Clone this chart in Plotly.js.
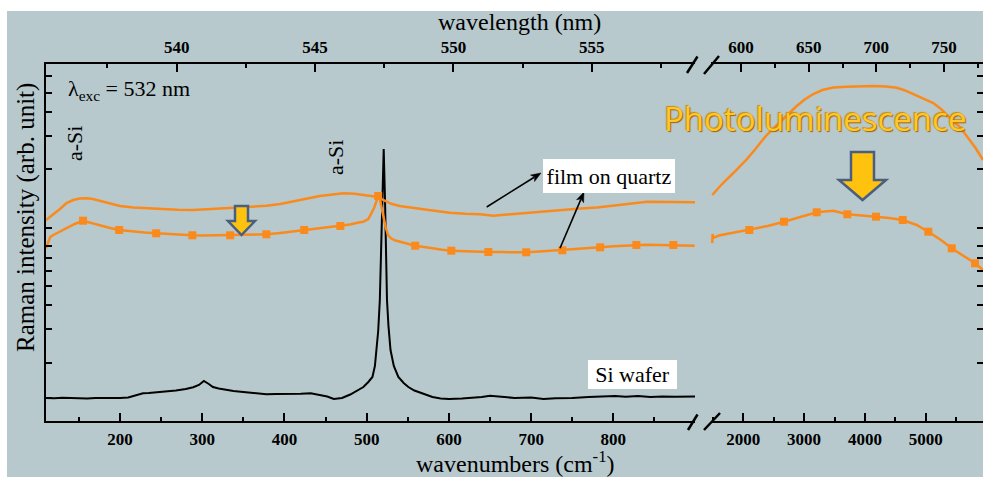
<!DOCTYPE html>
<html><head><meta charset="utf-8">
<script src="https://cdn.plot.ly/plotly-3.0.1.min.js"></script>
<style>html,body{margin:0;padding:0;background:#fff}#chart{width:983px;height:477px}</style>
</head><body><div id="chart"></div>
<script>
// ---------- data (Raman shift in cm^-1, intensity in arb. units) ----------
const siWaferWn = [110,120,130,140,150,160,170,180,190,200,210,220,228,235,245,257,268,280,289,296,302,308,313,320,330,338,350,365,378,390,405,420,432,442,452,460,470,480,490,496,502,507,510,512,514,516,517.5,519,520.7,522.3,523.5,524.7,526.5,529,533,538.5,545,550.7,558,567,580,590,600,616,630,640,650,665,680,700,715,730,750,770,785,802,815,830,845,860,875,890,900];
const siWaferI  = [23,22.7,23.2,22.8,23,22.6,23.1,22.9,22.7,23,23.5,25.5,27.8,28,28.6,30,30.5,32,33.7,36,40,37,34,32.5,31,30,29,27.8,26.7,27,26.8,27.2,27.7,26,24.5,22,23,26.5,31,34,39,44,55,71,90,121,165,221,272,221,165,121,95,71,55,44,38,34,30.5,27.7,24,22.5,22,22.5,23,24,25.3,24,23,23.5,22,22.8,23,24,24.5,25,24.3,25,24,24.6,24.2,24.8,24.5,24.8];

const filmTopWn = [110,115,120,127,135,143,151,160,167,175,185,192,200,216,230,245,257,270,289,300,320,338,360,378,395,411,425,443,458,472,485,492,500,508,514,520,524,530,540,550,560,580,601,620,638,654,670,690,705,719,740,760,780,800,820,841,860,880,900];
const filmTopI  = [201,204,207.5,212,218,221,222.5,222.8,222,220.3,217.5,216.2,215,213.4,212.7,211.8,211.6,211.2,211,211.6,212.4,213.7,214.4,215.2,217,219.3,222,225,226.6,227.7,227.2,226.3,225.6,225,224,221,219.3,217.2,215,213.6,212.7,210.4,208.3,207.2,206.7,205.3,206.5,207.6,209.2,210,211.2,212.6,213.4,215,217.2,219.3,219.2,218.8,218.7];

const filmLowWn = [110,113,115,120,128,135,145,155,165,176,188,199,215,230,244,260,275,288,300,315,334,350,365,378,395,410,424,440,455,468,480,490,496,502,506,509,512,514,516,518,520,523,526,530,535,540.5,550,559,570,581,592,603,615,630,648,665,680,694,710,725,738,750,765,784,800,815,828,840,855,873,885,899];
const filmLowI  = [172.7,180,184,186.5,190,192.7,197,200.3,198,195,193,191,189.5,188.4,187.7,186.8,186.2,185.7,185.5,185.8,185.7,186.1,186.3,186.7,188.1,189.5,191,192.6,194,195,196.5,198.5,199.3,202,207.7,213,220,225,222,214,204.3,194,186,182.5,180.5,179.3,177,175.3,174.1,172.5,171.3,170.3,169.8,169.3,169,168.9,168.6,168.7,169.5,170.3,170.7,171.9,172.6,173.7,174.8,175.4,176,176.2,175.9,176,175.6,175.3];
const filmMarkWn = [155,199,244,288,334,378,424,468,514,559,603,648,694,738,784,828,873];
const filmMarkI  = [200.3,191,187.7,185.7,185.7,186.7,191,195,225,175.3,170.3,169,168.7,170.7,173.7,176,176];

const plTopWn = [1490,1650,1836,2056,2200,2385,2604,2750,2878,3010,3151,3300,3480,3700,3900,4138,4350,4523,4650,4796,4950,5125,5250,5345,5450,5564,5700,5820,5942];
const plTopI  = [226,237,248,261.7,272,286,299,308,315,321.5,327,331,333.5,334.2,334.6,335,334.4,333.2,330.8,326.7,322.3,318,312,306,300,294,283,273,261];
const plLowWn = [1490,1495,1505,1600,1800,2099,2400,2669,2950,3207,3480,3711,3950,4183,4400,4622,4850,5043,5250,5428,5620,5811,5942];
const plLowI  = [178,187,183,185.5,188,191,195,199.3,204,208.7,210.3,206.7,205.5,204.3,203,201,196,189.3,181,172.7,165,157.7,151];
const plMarkWn = [2099,2669,3207,3711,4183,4622,5043,5428,5811];
const plMarkI  = [191,199.3,208.7,206.7,204.3,201,189.3,172.7,157.7];

const yTickVals = [345,328,309,285,252,193,175,163,150,135,116,92,58,23];

// ---------- geometry helpers (pixel -> paper) ----------
const L = 46, T = 64, W = 937, H = 357;
const px = x => (x - L) / W;
const py = y => (T + H - y) / H;
const P = (x, y) => px(x).toFixed(5) + ',' + py(y).toFixed(5);

const ORANGE = '#fb8a1c';
const BG = '#b7c9cd';
const SERIF = '"Liberation Serif","Times New Roman",serif';

const orangeLine = {color: ORANGE, width: 2.5};
const traces = [
  {x: siWaferWn, y: siWaferI, xaxis: 'x', yaxis: 'y', mode: 'lines', line: {color: '#000', width: 2}},
  {x: filmTopWn, y: filmTopI, xaxis: 'x', yaxis: 'y', mode: 'lines', line: orangeLine},
  {x: filmLowWn, y: filmLowI, xaxis: 'x', yaxis: 'y', mode: 'lines', line: orangeLine},
  {x: filmMarkWn, y: filmMarkI, xaxis: 'x', yaxis: 'y', mode: 'markers', marker: {symbol: 'square', size: 8, color: ORANGE}},
  {x: plTopWn, y: plTopI, xaxis: 'x2', yaxis: 'y2', mode: 'lines', line: orangeLine},
  {x: plLowWn, y: plLowI, xaxis: 'x2', yaxis: 'y2', mode: 'lines', line: orangeLine},
  {x: plMarkWn, y: plMarkI, xaxis: 'x2', yaxis: 'y2', mode: 'markers', marker: {symbol: 'square', size: 8, color: ORANGE}},
  {x: [], y: [], xaxis: 'x3', yaxis: 'y'},
  {x: [], y: [], xaxis: 'x4', yaxis: 'y2'}
];
traces.forEach(t => { t.showlegend = false; t.hoverinfo = 'skip'; });

const tickFont = {family: SERIF, size: 17, color: '#000', weight: 'bold'};
const minorT = d => ({dtick: d, ticks: 'inside', ticklen: 4, tickwidth: 2, tickcolor: '#000', showgrid: false});
function xAx(extra) {
  return Object.assign({
    showgrid: false, zeroline: false, showline: true, linecolor: '#000', linewidth: 2,
    ticks: 'inside', ticklen: 8, tickwidth: 2, tickcolor: '#000', tickfont: tickFont,
    ticklabelstandoff: 2, automargin: false, fixedrange: true, tickmode: 'linear', tick0: 0
  }, extra);
}
const yAx = (extra) => Object.assign({domain: [0, 1], range: [0, H], showgrid: false, zeroline: false, showline: true,
  linecolor: '#000', linewidth: 2, ticks: 'inside', ticklen: 6, tickwidth: 2, tickcolor: '#000',
  tickmode: 'array', showticklabels: false, automargin: false, fixedrange: true}, extra);
const dLeft = [0, px(695)], dRight = [px(711), 1];

// arrow (line + filled head) from tail to tip, in pixel coordinates
function arrowShapes(x0, y0, x1, y1) {
  const dx = x1 - x0, dy = y1 - y0, len = Math.hypot(dx, dy);
  const ux = dx / len, uy = dy / len, hl = 10, hw = 3.8;
  const bx = x1 - hl * ux, by = y1 - hl * uy;
  return [
    {type: 'line', xref: 'paper', yref: 'paper', x0: px(x0), y0: py(y0), x1: px(bx + 2 * ux), y1: py(by + 2 * uy), line: {color: '#000', width: 1.6}},
    {type: 'path', xref: 'paper', yref: 'paper', fillcolor: '#000', line: {color: '#000', width: 0.5},
     path: 'M' + P(x1, y1) + ' L' + P(bx - hw * uy, by + hw * ux) + ' L' + P(bx + 2.5 * ux, by + 2.5 * uy) + ' L' + P(bx + hw * uy, by - hw * ux) + ' Z'}
  ];
}

const layout = {
  width: 983, height: 477,
  margin: {l: L, r: 0, t: T, b: 477 - T - H, pad: 0},
  paper_bgcolor: BG, plot_bgcolor: 'rgba(0,0,0,0)',
  showlegend: false,
  xaxis: xAx({domain: dLeft, anchor: 'y', range: [110, 899.3], dtick: 100, minor: minorT(50)}),
  xaxis2: xAx({domain: dRight, anchor: 'y2', range: [1469, 5942], dtick: 1000, minor: minorT(500)}),
  xaxis3: xAx({overlaying: 'x', anchor: 'y', side: 'top', range: [535.28, 558.73], dtick: 5, minor: minorT(2.5)}),
  xaxis4: xAx({overlaying: 'x2', anchor: 'y2', side: 'top', range: [577.83, 778.8], dtick: 50, minor: minorT(25)}),
  yaxis: yAx({anchor: 'x', tickvals: yTickVals}),
  yaxis2: yAx({anchor: 'x2', side: 'right', tickvals: yTickVals.slice(0, -1)}),
  shapes: [
    // white frame strips outside the grey panel
    {type: 'rect', xref: 'paper', yref: 'paper', x0: px(-5), x1: px(990), y0: py(11), y1: py(-5), fillcolor: '#fff', line: {width: 0}, layer: 'below'},
    {type: 'rect', xref: 'paper', yref: 'paper', x0: px(-5), x1: px(7), y0: py(490), y1: py(-5), fillcolor: '#fff', line: {width: 0}, layer: 'below'},
    // axis break marks
    {type: 'line', xref: 'paper', yref: 'paper', x0: px(687), y0: py(73), x1: px(697.5), y1: py(56.5), line: {color: '#000', width: 2.5}},
    {type: 'line', xref: 'paper', yref: 'paper', x0: px(704), y0: py(74), x1: px(719), y1: py(56), line: {color: '#000', width: 2.5}},
    {type: 'line', xref: 'paper', yref: 'paper', x0: px(688), y0: py(430), x1: px(697.5), y1: py(414.5), line: {color: '#000', width: 2.5}},
    {type: 'line', xref: 'paper', yref: 'paper', x0: px(704), y0: py(430), x1: px(720), y1: py(413), line: {color: '#000', width: 2.5}},
    // block arrows
    {type: 'path', xref: 'paper', yref: 'paper',
     path: 'M' + P(235,206) + ' L' + P(248,206) + ' L' + P(248,221) + ' L' + P(255,221) + ' L' + P(241.5,235) + ' L' + P(228,221) + ' L' + P(235,221) + ' Z',
     fillcolor: '#ffc20e', line: {color: '#4a5f80', width: 2.5}},
    {type: 'path', xref: 'paper', yref: 'paper',
     path: 'M' + P(851,152) + ' L' + P(874,152) + ' L' + P(874,180) + ' L' + P(886,180) + ' L' + P(862.5,200) + ' L' + P(839,180) + ' L' + P(851,180) + ' Z',
     fillcolor: '#ffc20e', line: {color: '#4a5f80', width: 2.5}}
  ].concat(arrowShapes(486.7, 207, 541, 173), arrowShapes(560, 248.3, 584, 192)),
  annotations: [
    {text: 'wavelength (nm)', x: px(519), y: py(22), font: {family: SERIF, size: 24, color: '#000'}},
    {text: 'wavenumbers (cm<sup>-1</sup>)', x: px(515), y: py(462), font: {family: SERIF, size: 24, color: '#000'}},
    {text: 'Raman intensity (arb. unit)', x: px(26), y: py(218), textangle: -90, font: {family: SERIF, size: 25, color: '#000'}},
    {text: 'λ<sub>exc</sub> = 532 nm', x: px(66), y: py(90), xanchor: 'left', font: {family: SERIF, size: 22, color: '#000'}},
    {text: 'a-Si', x: px(74), y: py(144), textangle: -90, font: {family: SERIF, size: 22, color: '#000'}},
    {text: 'a-Si', x: px(335), y: py(158), textangle: -90, font: {family: SERIF, size: 22, color: '#000'}},
    {text: 'film on quartz', x: px(609), y: py(176), bgcolor: '#fff', bordercolor: '#fff', borderwidth: 1, borderpad: 0, width: 130, height: 32, font: {family: SERIF, size: 22, color: '#000'}},
    {text: 'Si wafer', x: px(632.5), y: py(374.5), bgcolor: '#fff', bordercolor: '#fff', borderwidth: 1, borderpad: 0, width: 87, height: 27, font: {family: SERIF, size: 22, color: '#000'}},
    {text: 'Photoluminescence', x: px(815), y: py(118), font: {family: '"Open Sans",sans-serif', size: 33, color: '#ffc824', shadow: '1px 1px 1px #a0600a, -1px -1px 1px #c98a10'}}
  ].map(a => Object.assign({xref: 'paper', yref: 'paper', showarrow: false, xanchor: 'center', yanchor: 'middle'}, a))
};

Plotly.newPlot('chart', traces, layout, {displayModeBar: false, staticPlot: true});
</script>
</body></html>
